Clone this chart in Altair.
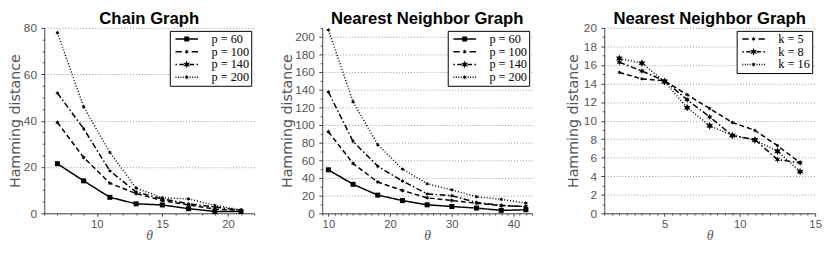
import math
import altair as alt
import pandas as pd

# ---------------- data ----------------
chain_theta = [7, 9, 11, 13, 15, 17, 19, 21]
chain_p60 = [21.4, 14.0, 6.9, 4.1, 3.6, 2.0, 0.8, 0.8]
chain_p100 = [39.2, 24.1, 13.0, 8.5, 5.5, 3.6, 1.8, 1.3]
chain_p140 = [51.9, 36.5, 18.3, 9.2, 6.2, 4.1, 2.7, 1.3]
chain_p200 = [77.9, 46.0, 26.3, 10.9, 6.7, 6.2, 3.4, 1.5]

nn_theta = [10, 14, 18, 22, 26, 30, 34, 38, 42]
nn_p60 = [49.3, 32.8, 20.6, 14.4, 9.6, 7.7, 5.9, 3.3, 4.0]
nn_p100 = [92.4, 56.4, 35.4, 25.8, 17.5, 14.5, 11.4, 8.7, 7.7]
nn_p140 = [137.4, 81.4, 53.3, 36.6, 22.0, 19.9, 12.3, 9.0, 7.6]
nn_p200 = [207.7, 126.3, 77.7, 50.0, 33.5, 26.5, 18.8, 15.8, 11.6]

k_theta = [2, 3.5, 5, 6.5, 8, 9.5, 11, 12.5, 14]
k_5 = [15.2, 14.5, 14.3, 12.8, 11.3, 9.8, 8.95, 7.3, 5.45]
k_8 = [16.3, 15.35, 14.3, 12.25, 10.4, 8.4, 7.95, 5.8, 5.45]
k_16 = [16.7, 16.2, 14.2, 11.4, 9.45, 8.4, 7.9, 6.7, 4.5]

p_names = ["p = 60", "p = 100", "p = 140", "p = 200"]
k_names = ["k = 5", "k = 8", "k = 16"]

titles = ["Chain Graph", "Nearest Neighbor Graph", "Nearest Neighbor Graph"]

chain_x_ticks = [v for v in range(6, 23)]
chain_y_ticks = [v for v in range(0, 81, 5)]
nn_x_ticks = [v for v in range(9, 44)]
nn_y_ticks = [v for v in range(0, 211, 10)]
k_x_ticks = [1 + 0.5 * i for i in range(29)]
k_y_ticks = [v for v in range(0, 21)]


def long_df(theta, names, columns):
    rows = []
    for name, vals in zip(names, columns):
        for t, v in zip(theta, vals):
            rows.append({"theta": t, "dist": v, "series": name})
    return pd.DataFrame(rows)


# ---------------- marker / line styles ----------------
def star(r, inner=0.5, n=6):
    pts = []
    for i in range(2 * n):
        ang = -math.pi / 2 + i * math.pi / n
        rr = r if i % 2 == 0 else r * inner
        pts.append(f"{rr * math.cos(ang):.3f},{rr * math.sin(ang):.3f}")
    return "M" + "L".join(pts) + "Z"


def sq(h):
    return f"M{-h},{-h}H{h}V{h}H{-h}Z"


def segs(pairs, w=0.75):
    # thin filled bars stand in for stroked dashes in the legend sample
    return "".join(f"M{a},{-w}H{b}V{w}H{a}Z" for a, b in pairs)


STYLES = {
    "solid": dict(dash=[1, 0], shape="square", size=26,
                  legend=segs([(-11.5, 11.5)]) + sq(2.5)),
    "dashed": dict(dash=[5, 3], shape=star(1), size=20,
                   legend=segs([(-11.5, -5), (5, 11.5)]) + star(2.4)),
    "dashdot": dict(dash=[6, 2.5, 1.5, 2.5], shape=star(1, 0.45), size=64,
                    legend=segs([(-11.5, -10), (-7.5, -3), (3, 7.5), (10, 11.5)]) + star(4, 0.45)),
    "dotted": dict(dash=[1, 2], shape=star(1), size=18,
                   legend=segs([(-11.5, -10.5), (-9, -8), (-6.5, -5.5), (-4, -3),
                                (3, 4), (5.5, 6.5), (8, 9), (10.5, 11.5)]) + star(2.4)),
}

AX = dict(domainColor="#444", tickColor="#444", labelColor="#555", titleColor="#555",
          labelFont="Liberation Sans", labelOverlap=False,
          labelFlush=False, tickWidth=1, domainWidth=1)

PLOT_H = 189


def panel(df, order, style_keys, title, width, xdom, xticks, xmod, ydom, yticks, ymod, ytp):
    xmaj = f"datum.value % {xmod} === 0"
    ymaj = f"datum.value % {ymod} === 0"
    x = alt.X("theta:Q", scale=alt.Scale(domain=xdom, nice=False, zero=False),
              axis=alt.Axis(values=xticks, format=".0f", labelExpr=f"{xmaj} ? datum.label : ''",
                            tickSize={"condition": {"test": xmaj, "value": 3}, "value": 1.8},
                            grid=False, title="θ", titleFont="Liberation Serif",
                            titleFontStyle="italic", titleFontWeight="normal",
                            titleFontSize=14, titlePadding=-1, labelPadding=2.5,
                            labelFontSize=11.5, **AX))
    y = alt.Y("dist:Q", scale=alt.Scale(domain=ydom, nice=False, zero=False),
              axis=alt.Axis(values=yticks, labelExpr=f"{ymaj} ? datum.label : ''",
                            tickSize={"condition": {"test": ymaj, "value": 3.5}, "value": 2},
                            grid=True, gridDash=[1, 2], gridColor="#999",
                            gridOpacity={"condition": {"test": ymaj, "value": 1}, "value": 0},
                            title="Hamming distance", titleFont="DejaVu Sans",
                            titleFontSize=14.5, titleFontWeight="normal",
                            titlePadding=ytp, labelPadding=4.5, labelFontSize=12, **AX))
    sty = [STYLES[k] for k in style_keys]
    base = alt.Chart(df)
    lines = base.mark_line(color="black", strokeWidth=1.5).encode(
        x=x, y=y,
        strokeDash=alt.StrokeDash("series:N", scale=alt.Scale(domain=order, range=[s["dash"] for s in sty]),
                                  legend=None))
    pts = base.mark_point(filled=True, color="black", opacity=1).encode(
        x=x, y=y,
        shape=alt.Shape("series:N", scale=alt.Scale(domain=order, range=[s["shape"] for s in sty]),
                        legend=None),
        size=alt.Size("series:N", scale=alt.Scale(domain=order, range=[s["size"] for s in sty]),
                      legend=None))
    leg = base.mark_point(filled=True, color="black", opacity=0, size=4).encode(
        x=x, y=y,
        shape=alt.Shape("series:N", scale=alt.Scale(domain=order, range=[s["legend"] for s in sty]),
                        legend=alt.Legend(title=None, orient="top-right", offset=3, padding=2,
                                          strokeColor="black", fillColor="white", cornerRadius=0,
                                          labelFont="Liberation Serif", labelFontSize=12.5,
                                          labelColor="black", symbolSize=4, symbolOffset=9,
                                          labelOffset=19, symbolFillColor="black",
                                          symbolStrokeWidth=0, symbolOpacity=1, rowPadding=-3)))
    return alt.layer(lines, pts, leg).resolve_scale(shape="independent").properties(
        width=width, height=PLOT_H,
        title=alt.Title(title, font="Liberation Sans", fontSize=17, fontWeight="bold",
                        color="black", offset=-6, anchor="middle"))


p1 = panel(long_df(chain_theta, p_names, [chain_p60, chain_p100, chain_p140, chain_p200]),
           p_names, ["solid", "dashed", "dashdot", "dotted"], titles[0], 214,
           [6, 22], chain_x_ticks, 5, [0, 80], chain_y_ticks, 20, 0.5)
p2 = panel(long_df(nn_theta, p_names, [nn_p60, nn_p100, nn_p140, nn_p200]),
           p_names, ["solid", "dashed", "dashdot", "dotted"], titles[1], 214,
           [9, 43], nn_x_ticks, 10, [0, 210], nn_y_ticks, 20, 0.5)
p3 = panel(long_df(k_theta, k_names, [k_5, k_8, k_16]),
           k_names, ["dashed", "dashdot", "dotted"], titles[2], 215,
           [1, 15], k_x_ticks, 5, [0, 20], k_y_ticks, 2, 3.2)

indep = dict(strokeDash="independent", shape="independent", size="independent")
inner = alt.hconcat(p1, p2, spacing=24.4).resolve_scale(**indep)
chart = alt.hconcat(inner, p3, spacing=28).resolve_scale(**indep).properties(
    padding=0
).configure_view(strokeWidth=0)

chart.save("out.html", embed_options={"renderer": "svg", "actions": False})
